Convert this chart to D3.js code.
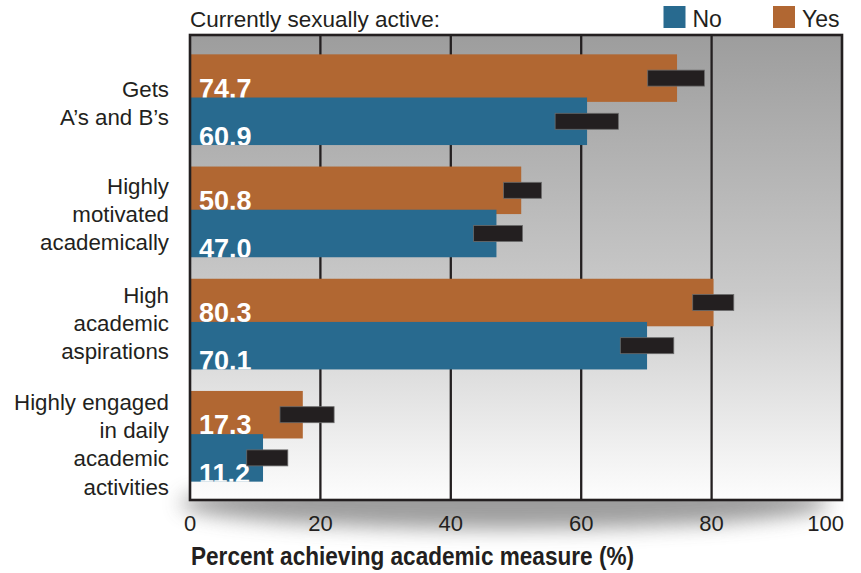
<!DOCTYPE html>
<html>
<head>
<meta charset="utf-8">
<script src="https://cdn.jsdelivr.net/npm/d3@7/dist/d3.min.js"></script>
<style>
  html, body { margin: 0; padding: 0; background: #ffffff; }
  svg { display: block; }
  text { font-family: "Liberation Sans", Arial, sans-serif; fill: #231f20; }
</style>
</head>
<body>
<svg id="chart" width="861" height="573"></svg>
<script>
// ---------- data ----------
const categories = ["Gets A’s and B’s", "Highly motivated academically", "High academic aspirations", "Highly engaged in daily academic activities"];
const categoryLines = [
  ["Gets", "A’s and B’s"],
  ["Highly", "motivated", "academically"],
  ["High", "academic", "aspirations"],
  ["Highly engaged", "in daily", "academic", "activities"]
];
const seriesNames = ["No", "Yes"];
const yesValues = [74.7, 50.8, 80.3, 17.3];
const noValues  = [60.9, 47.0, 70.1, 11.2];
const yesLow  = [70.2, 48.1, 77.1, 13.8];
const yesHigh = [78.9, 53.9, 83.4, 22.1];
const noLow   = [56.0, 43.5, 66.0, 8.7];
const noHigh  = [65.7, 51.0, 74.2, 15.0];
const xTicks = [0, 20, 40, 60, 80, 100];
const legendTitle = "Currently sexually active:";
const axisTitle = "Percent achieving academic measure (%)";

// ---------- layout / style ----------
const colors = { Yes: "#b16732", No: "#286a8f" };
const ink = "#231f20";
const plot = { left: 190, right: 842, top: 35, bottom: 500 };
const labelNudge = [3.5, 2, -1, 8];

const svg = d3.select("#chart");
const defs = svg.append("defs");

const x = d3.scaleLinear().domain([0, 100]).range([plot.left, plot.right]);
const y = d3.scaleBand().domain(categories).range([43.6, 492.4]).paddingInner(0.1916).paddingOuter(0.0958);
const bw = y.bandwidth();
const barH = bw * 0.524;
const sub = d3.scalePoint().domain(["Yes", "No"]).range([0, bw - barH]);

// gradient background
const grad = defs.append("linearGradient").attr("id", "bg").attr("x1", 0).attr("y1", 0).attr("x2", 0).attr("y2", 1);
grad.append("stop").attr("offset", "0%").attr("stop-color", "#9d9d9d");
grad.append("stop").attr("offset", "55%").attr("stop-color", "#c9c9c9");
grad.append("stop").attr("offset", "100%").attr("stop-color", "#fdfdfd");

const blur = defs.append("filter").attr("id", "shadowBlur").attr("x", "-20%").attr("y", "-150%").attr("width", "140%").attr("height", "400%");
blur.append("feGaussianBlur").attr("stdDeviation", 10);

// drop shadow under the frame
svg.append("ellipse")
  .attr("cx", 505).attr("cy", 503).attr("rx", 325).attr("ry", 26)
  .attr("fill", "#858585").attr("opacity", 0.8)
  .attr("filter", "url(#shadowBlur)");

// plot background
svg.append("rect")
  .attr("x", plot.left).attr("y", plot.top)
  .attr("width", plot.right - plot.left).attr("height", plot.bottom - plot.top)
  .attr("fill", "url(#bg)");

// gridlines
svg.append("g").selectAll("line")
  .data(xTicks.filter(t => t > 0 && t < 100))
  .join("line")
  .attr("x1", d => x(d)).attr("x2", d => x(d))
  .attr("y1", plot.top).attr("y2", plot.bottom)
  .attr("stroke", ink).attr("stroke-width", 2.3);

// rows: bars, labels, in order Yes -> No so No overlaps Yes
const fmt = d3.format(".1f");
const rows = categories.map((c, i) => ({
  cat: c, i,
  bars: [
    { key: "Yes", v: yesValues[i], lo: yesLow[i], hi: yesHigh[i] },
    { key: "No",  v: noValues[i],  lo: noLow[i],  hi: noHigh[i] }
  ]
}));

const barsG = svg.append("g");
rows.forEach(r => {
  r.bars.forEach(b => {
    const by = y(r.cat) + sub(b.key);
    const id = "clip-" + r.i + "-" + b.key;
    defs.append("clipPath").attr("id", id)
      .append("rect").attr("x", x(0)).attr("y", by)
      .attr("width", x(b.v) - x(0)).attr("height", barH);
    barsG.append("rect")
      .attr("x", x(0)).attr("y", by)
      .attr("width", x(b.v) - x(0)).attr("height", barH)
      .attr("fill", colors[b.key]);
    barsG.append("text")
      .attr("clip-path", "url(#" + id + ")")
      .attr("x", x(0) + 9).attr("y", by + barH + (b.key === "Yes" ? -4 : 1))
      .attr("font-size", 27).attr("font-weight", "bold")
      .style("fill", "#ffffff")
      .text(fmt(b.v));
  });
});

// error bars (thick rectangles)
const errG = svg.append("g");
rows.forEach(r => {
  r.bars.forEach(b => {
    const cy = y(r.cat) + sub(b.key) + barH / 2;
    errG.append("rect")
      .attr("x", x(b.lo)).attr("y", cy - 8)
      .attr("width", x(b.hi) - x(b.lo)).attr("height", 16)
      .attr("fill", ink).attr("stroke", "#6b6b6b").attr("stroke-width", 0.8);
  });
});

// frame
svg.append("rect")
  .attr("x", plot.left).attr("y", plot.top)
  .attr("width", plot.right - plot.left).attr("height", plot.bottom - plot.top)
  .attr("fill", "none").attr("stroke", ink).attr("stroke-width", 2.6);

// x tick labels
svg.append("g").selectAll("text")
  .data(xTicks)
  .join("text")
  .attr("x", d => d === 100 ? x(d) + 2 : x(d))
  .attr("y", 531)
  .attr("text-anchor", d => d === 100 ? "end" : "middle")
  .attr("font-size", 22)
  .text(d => d);

// axis title
svg.append("text")
  .attr("x", 191).attr("y", 565)
  .attr("font-size", 26).attr("font-weight", "bold")
  .attr("textLength", 443).attr("lengthAdjust", "spacingAndGlyphs")
  .text(axisTitle);

// category labels
const catG = svg.append("g");
categoryLines.forEach((lines, i) => {
  const cy = y(categories[i]) + bw / 2;
  const lh = 28.3;
  const first = cy + 8 - (lines.length - 1) / 2 * lh + labelNudge[i];
  const t = catG.append("text").attr("text-anchor", "end").attr("font-size", 22.3);
  lines.forEach((ln, k) => {
    t.append("tspan").attr("x", 169).attr("y", first + k * lh).text(ln);
  });
});

// legend
svg.append("text").attr("x", 190).attr("y", 26.5).attr("font-size", 22.5).text(legendTitle);
const legX = { No: 663.5, Yes: 773 };
seriesNames.forEach(s => {
  svg.append("rect").attr("x", legX[s]).attr("y", 6).attr("width", 22).attr("height", 22).attr("fill", colors[s]);
  svg.append("text").attr("x", legX[s] + 29).attr("y", 26.5).attr("font-size", 23).text(s);
});
</script>
</body>
</html>
